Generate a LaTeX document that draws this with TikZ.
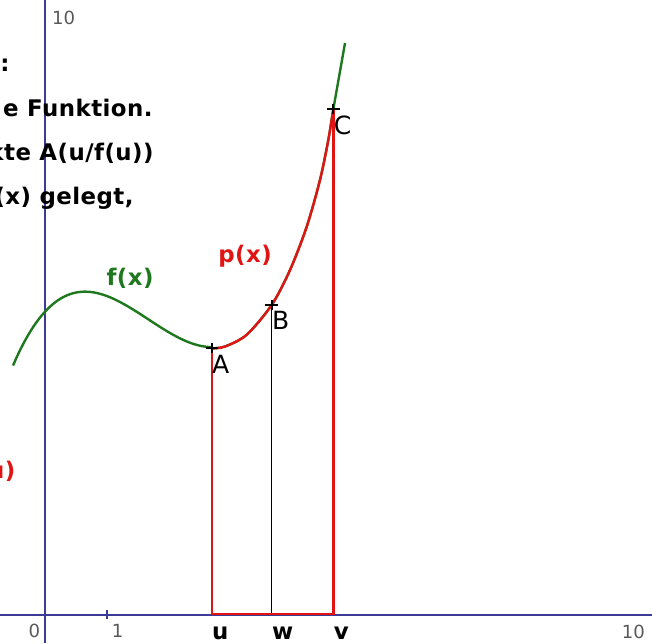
\documentclass[tikz,border=0pt]{standalone}
\usepackage{fontspec}
\setmainfont{DejaVu Sans}
\newfontfamily\widefont[LetterSpace=2]{DejaVu Sans}
\usetikzlibrary{positioning}
\definecolor{axisblue}{RGB}{60,60,150}
\definecolor{fgreen}{RGB}{30,120,30}
\definecolor{pred}{RGB}{225,20,20}

\begin{document}
\begin{tikzpicture}[
  axis/.style={axisblue,line width=0.8pt},
  num/.style={inner sep=0pt,text=black!65,font=\fontsize{8.3}{10}\selectfont},
  txt/.style={inner sep=0pt,font=\widefont\bfseries\fontsize{10.5}{12}\selectfont},
  ptname/.style={inner sep=0pt,font=\fontsize{11.5}{13}\selectfont},
  fcurve/.style={fgreen,line width=1.1pt},
  pcurve/.style={pred,line width=1.1pt},
  rim/.style={pred,line width=1.1pt},
  ptmark/.style={black,line width=1pt}
]
\useasboundingbox (-0.726,-0.452) rectangle (9.790,9.919);
\clip (-0.726,-0.452) rectangle (9.790,9.919);

% axes
\coordinate (xl) at (-0.726,0);
\coordinate (xr) at (9.790,0);
\coordinate (yb) at (0,-0.452);
\coordinate (yt) at (0,9.919);
\draw[axis] (xl) -- (xr);
\draw[axis] (yb) -- (yt);
\draw[axis] (1,-0.07) -- (1,0.08);
\node[num] (n0) at (-0.17,-0.25) {0};
\node[num] (n1) at (1.17,-0.25) {1};
\node[num] (nx10) at (9.49,-0.27) {10};
\node[num] (ny10) at (0.30,9.63) {10};

% text at the left edge
\node[txt,anchor=base] (t0) at (-0.645,8.758) {:};
\node[txt,anchor=base east] (t1) at (1.742,8.032) {e Funktion.};
\node[txt,anchor=base east] (t2) at (1.758,7.323) {kte A(u/f(u))};
\node[txt,anchor=base east] (t3) at (1.435,6.613) {p(x) gelegt,};
\node[txt,text=pred,anchor=base east] (t4) at (-0.47,2.194) {u)};

% points
\coordinate (A) at (2.689,4.300);
\coordinate (B) at (3.656,5.000);
\coordinate (C) at (4.650,8.156);
\coordinate (u) at (2.689,0.02);
\coordinate (w) at (3.656,0.02);
\coordinate (v) at (4.650,0.02);

% f(x)
\draw[fcurve] plot[domain=-0.516:2.689,samples=60,smooth]
  (\x,{4.892+0.627*(\x*\x*\x/3-1.6675*\x*\x+1.735*\x)});
\draw[fcurve] plot[smooth] coordinates {(A) (2.903,4.33) (3.253,4.52) (B)
  (3.952,5.565) (4.221,6.263) (4.435,7.016) (4.569,7.661) (C) (4.839,9.226)};
% p(x)
\draw[pcurve] plot[smooth] coordinates {(A) (2.903,4.33) (3.253,4.52) (B)
  (3.952,5.565) (4.221,6.263) (4.435,7.016) (4.569,7.661) (C)};

\draw[black,line width=0.6pt] (w) -- (B);
\draw[rim] (A) -- (u) -- (v) -- (C);

\foreach \p in {A,B,C}
  \draw[ptmark] ([xshift=-1mm]\p) -- ([xshift=1mm]\p)
    ([yshift=-0.8mm]\p) -- ([yshift=0.8mm]\p);

\node[ptname,anchor=north west] (lA) at ([yshift=-1mm]A) {A};
\node[ptname,anchor=north west] (lB) at ([yshift=-1mm]B) {B};
\node[ptname,anchor=north west] (lC) at ([yshift=-1mm]C) {C};

\node[txt,anchor=base west] (lu) at (2.689,-0.403) {u};
\node[txt,anchor=base west] (lw) at (3.656,-0.403) {w};
\node[txt,anchor=base west] (lv) at (4.650,-0.403) {v};

\node[txt,text=fgreen] (lf) at (1.371,5.435) {f(x)};
\node[txt,text=pred] (lp) at (3.226,5.779) {p(x)};
\end{tikzpicture}
\end{document}
